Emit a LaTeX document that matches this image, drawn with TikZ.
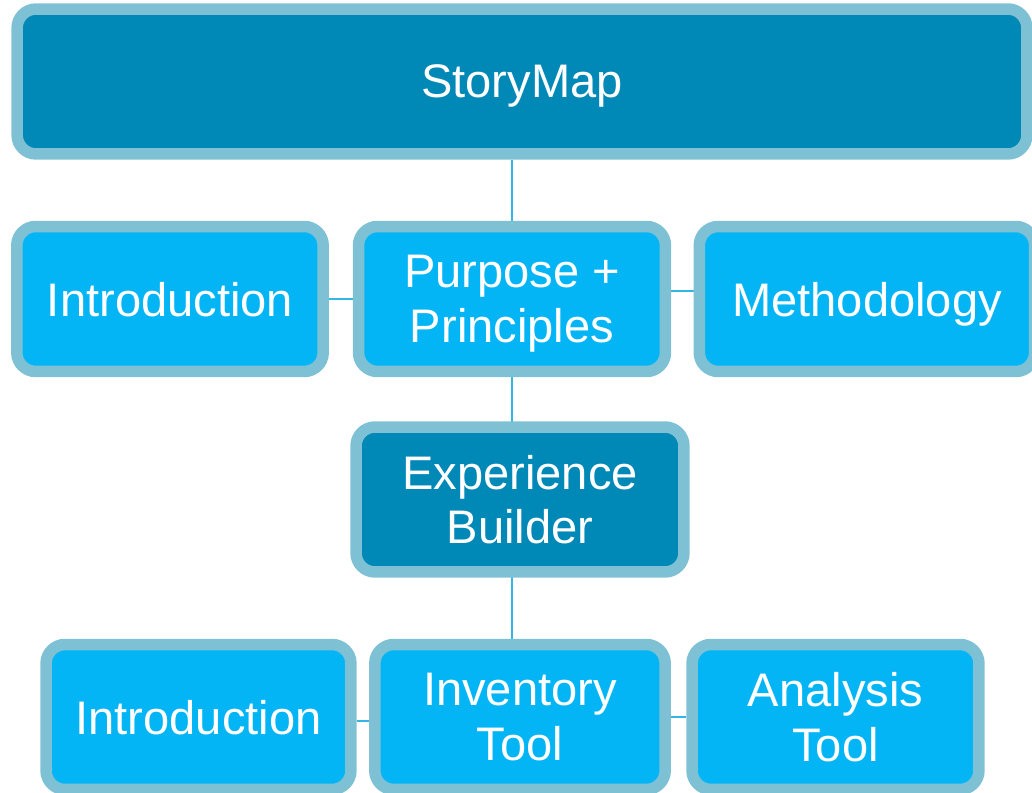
\documentclass[tikz,border=0pt]{standalone}
\usepackage{fontspec}
\setmainfont{Liberation Sans}
\usetikzlibrary{backgrounds}
\definecolor{rimblue}{RGB}{127,193,212}
\definecolor{darkblue}{RGB}{0,136,183}
\definecolor{lightblue}{RGB}{3,181,245}
\definecolor{linkblue}{RGB}{51,181,229}
\begin{document}
\begin{tikzpicture}[x=0.02cm,y=-0.02cm]

    \tikzset{
      box/.style={
        draw=rimblue,
        line width=0.23cm,
        rounded corners=0.38cm,
        inner sep=0pt,
        minimum height=2.9cm,
        align=center,
        text=white,
        text depth=0pt,
        font=\fontsize{26.8}{31}\selectfont,
      },
      topbox/.style={box, fill=darkblue},
      subbox/.style={box, fill=lightblue},
      link/.style={draw=linkblue, line width=0.7pt},
    }
    \clip (0,0) rectangle (1032,793);
	\node[topbox, minimum width=20.2cm] (storymap) at (522,81.5) {StoryMap};
	\node[subbox, minimum width=6.13cm] (intro) at (170,299) {Introduction};
	\node[subbox, minimum width=6.14cm] (purpose) at (512,299) {Purpose +\\Principles};
	\node[subbox, minimum width=6.71cm] (method) at (867,299) {Methodology};
	\node[topbox, minimum width=6.56cm] (builder) at (520,499.5) {Experience\\Builder};
	\node[subbox, minimum width=6.1cm] (builderintro) at (198.5,717) {Introduction};
	\node[subbox, minimum width=5.81cm] (inventory) at (520,717) {Inventory\\Tool};
	\node[subbox, minimum width=5.74cm] (analysis) at (835.5,717) {Analysis\\Tool};
	\begin{scope}[on background layer]
	\draw[link] (storymap.south -| purpose) -- (purpose);
	\draw[link] (intro) -- (purpose);
	\draw[link] ([yshift=0.16cm]purpose.east) -- ([yshift=0.16cm]method.west);
	\draw[link] (purpose) -- (purpose |- builder);
	\draw[link] (purpose |- builder) -- (purpose |- inventory.north);
	\draw[link] ([yshift=-0.08cm]builderintro.east) -- ([yshift=-0.08cm]inventory.west);
	\draw[link] (inventory) -- (analysis);
	\end{scope}

\end{tikzpicture}
\end{document}
